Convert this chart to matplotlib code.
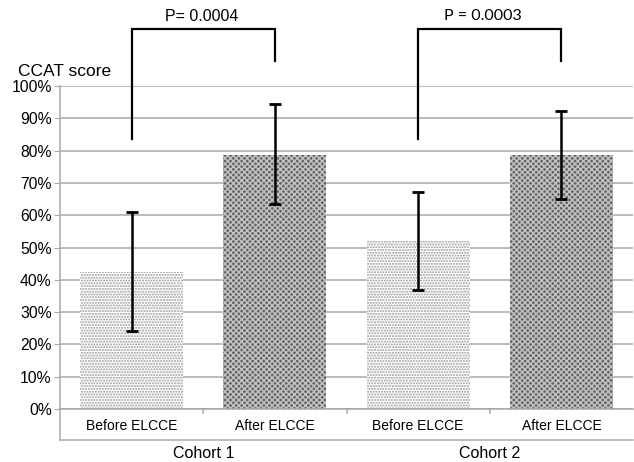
import matplotlib
matplotlib.use("Agg")
import matplotlib.pyplot as plt
import numpy as np
from matplotlib.lines import Line2D

# Data
sub_labels = ["Before ELCCE", "After ELCCE", "Before ELCCE", "After ELCCE"]
group_labels = ["Cohort 1", "Cohort 2"]
values = [42.3, 78.6, 52.0, 78.6]
err_low = [18.3, 15.1, 15.3, 13.5]
err_high = [18.6, 15.8, 15.3, 13.8]
p_labels = ["P= 0.0004", "P = 0.0003"]
yticks = [0, 10, 20, 30, 40, 50, 60, 70, 80, 90, 100]
ytick_labels = [f"{v}%" for v in yticks]

plt.rcParams['font.family'] = ['Liberation Sans', 'DejaVu Sans']

fig = plt.figure(figsize=(6.34, 4.62), dpi=100)
ax = fig.add_axes([60/634, (462-409)/462, (633-60)/634, (409-86)/462])

x = np.arange(len(values))
grid_c = '#a8a8a8'

ax.set_ylim(0, 100)
ax.set_xlim(-0.5, 3.5)
ax.set_yticks(yticks)
ax.set_yticklabels(ytick_labels, fontsize=11.3)
ax.yaxis.grid(True, color=grid_c, linewidth=1.1)
ax.set_axisbelow(True)
ax.tick_params(axis='y', length=4, color=grid_c, pad=2)
ax.tick_params(axis='x', length=0)
ax.set_xticks([])
for s in ['top', 'right', 'left']:
    ax.spines[s].set_visible(False)
ax.spines['bottom'].set_color(grid_c)
ax.spines['bottom'].set_linewidth(1.1)

light_idx = [0, 2]
dark_idx = [1, 3]
ax.bar([x[i] for i in light_idx], [values[i] for i in light_idx], width=0.72,
       color='white', edgecolor='#9a9a9a', linewidth=0, hatch='......', zorder=2)
ax.bar([x[i] for i in dark_idx], [values[i] for i in dark_idx], width=0.72,
       color='#666666', edgecolor='#c4c4c4', linewidth=0, hatch='xxxxxx', zorder=2)

ax.errorbar(x, values, yerr=[err_low, err_high], fmt='none', ecolor='black',
            elinewidth=1.8, capsize=4, capthick=2, zorder=3)

# left axis line extending to group separator
sep_y = (409-440)/323
ax.add_line(Line2D([0, 0], [sep_y, 1], transform=ax.transAxes, color=grid_c,
                   linewidth=1.1, clip_on=False))
ax.add_line(Line2D([0, 1], [sep_y, sep_y], transform=ax.transAxes, color=grid_c,
                   linewidth=1.1, clip_on=False))
trans = ax.get_xaxis_transform()
for b in [0.5, 1.5, 2.5]:
    ax.add_line(Line2D([b, b], [0, -0.013], transform=trans, color=grid_c,
                       linewidth=1.1, clip_on=False))

for i, lab in enumerate(sub_labels):
    ax.text(x[i], (409-426)/323, lab, transform=trans, ha='center', va='center',
            fontsize=10)
for g, lab in enumerate(group_labels):
    ax.text(2*g + 0.5, (409-453)/323, lab, transform=trans, ha='center', va='center',
            fontsize=11.5)

# significance brackets
for g in range(2):
    xl, xr = x[2*g], x[2*g+1]
    ax.plot([xl, xl, xr, xr], [83.7, 117.6, 117.6, 107.6], color='black',
            linewidth=1.6, clip_on=False, solid_joinstyle='miter', zorder=4)
ax.text(0.49, 121.6, p_labels[0], ha='center', va='center', fontsize=11.5,
        clip_on=False)
ax.text(2.45, 121.6, p_labels[1], ha='center', va='center', fontsize=11.5,
        family=['Lato', 'DejaVu Sans'], clip_on=False)

fig.text(18/634, (462-71)/462, "CCAT score", ha='left', va='center', fontsize=12.5)

fig.savefig("out.png", dpi=100)
